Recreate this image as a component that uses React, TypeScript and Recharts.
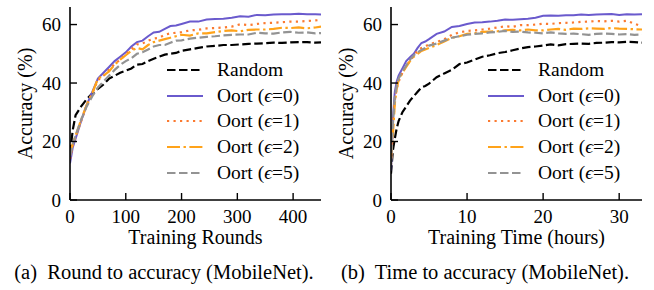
import { LineChart, Line, XAxis, YAxis, Legend } from 'recharts'

const FONT = '"Liberation Serif", "Times New Roman", Times, "DejaVu Serif", serif'

// (a) accuracy vs training rounds
const rounds = [0, 5, 10, 20, 30, 40, 50, 60, 70, 80, 90, 100, 110, 120, 130, 140, 150, 160, 170, 180, 190, 200, 215, 230, 245, 260, 275, 290, 305, 320, 335, 350, 365, 380, 395, 410, 425, 440, 450]
const roundRandom = [16, 24, 29, 32, 34.5, 36.5, 38, 39.5, 41.5, 42.5, 43.5, 44.2, 45, 46.3, 46.5, 47.5, 48.3, 49, 49.7, 50, 50.3, 51, 51.5, 52, 52.5, 52.7, 53, 53, 53.2, 53.4, 53.5, 53.6, 53.8, 53.7, 53.9, 54, 54, 53.8, 53.9]
const roundEps0 = [12.5, 18, 21, 27, 32.5, 37, 41.5, 43.5, 45.5, 47.5, 49, 50.5, 52.5, 54, 54.5, 56, 57.3, 57.5, 58.5, 59.5, 59.7, 60.2, 61, 61, 61.7, 61.9, 62, 62.3, 62.8, 62.7, 63.3, 63.2, 63.4, 63.5, 63.5, 63.7, 63.5, 63.5, 63.4]
const roundEps1 = [14, 19, 21.5, 27, 32.5, 36.5, 41, 42.5, 44.5, 46.5, 48, 49.8, 51.5, 53.2, 53.5, 54.5, 55.2, 55.5, 56.5, 57, 57.2, 57.4, 58, 58.2, 58.7, 58.8, 59, 59.3, 60.1, 59.8, 60.2, 60.5, 60.6, 60.8, 61, 61, 61.2, 61.4, 61.6]
const roundEps2 = [15, 19.5, 22, 27.5, 32.5, 36.5, 41.5, 42.5, 44, 46.3, 48, 49.5, 51, 52, 51.5, 53, 54, 54.5, 55, 55.5, 56, 56.5, 56.2, 57, 57, 57.4, 57.8, 58, 57.7, 58.2, 58.3, 58.3, 58.5, 58.9, 58.8, 59, 58.7, 59, 59.3]
const roundEps5 = [15, 19, 22, 27.5, 32, 35.5, 38.5, 40.5, 42.5, 44.5, 46.2, 47.5, 48.5, 50, 50.5, 51.5, 52.5, 53, 53, 53.8, 54.5, 54.6, 55.2, 55.5, 55.8, 56, 56.3, 56.5, 56.6, 56.6, 57.2, 57, 56.9, 57.3, 57.5, 57.2, 57.3, 57, 57.1]

// (b) accuracy vs training time (hours)
const hours = [0, 0.25, 0.5, 0.75, 1, 1.5, 2, 2.5, 3, 3.5, 4, 4.5, 5, 6, 7, 8, 9, 10, 11, 12, 13, 14, 15, 16, 17, 18, 19, 20, 21, 22, 23, 24, 25, 26, 27, 28, 29, 30, 31, 32, 33]
const timeRandom = [9, 17, 21, 24.5, 27, 30, 32, 34, 35.5, 37, 38.5, 39, 39.8, 42, 43.3, 44.5, 46.5, 47, 48, 49, 49.5, 50.2, 50.6, 51.2, 51.8, 52.3, 52.5, 52.8, 53.2, 52.9, 53.3, 53.4, 53.5, 53.4, 53.7, 53.8, 54, 53.9, 54.1, 54, 53.8]
const timeEps0 = [10, 28, 37, 40.5, 42.5, 45, 47.5, 48.8, 50, 52, 53.7, 54.2, 55, 56.8, 57.6, 59.2, 59.5, 60.2, 60.7, 60.8, 61, 61.3, 61.7, 61.6, 61.8, 62, 62.3, 63, 63.1, 63, 63.2, 63.2, 63.4, 63.3, 63.4, 63.5, 63.6, 63.3, 63.5, 63.4, 63.5]
const timeEps1 = [12, 25, 34, 38, 40.5, 43.5, 46, 47.5, 49.5, 51, 52, 52.5, 53.2, 54, 55, 56.5, 57.3, 57.8, 58, 58.3, 58.6, 59, 59.4, 59.2, 59.8, 59.8, 60, 60.3, 60.2, 60.5, 60.6, 60.7, 60.9, 61, 61.2, 61.1, 61.3, 61, 61.3, 60.3, 59.3]
const timeEps2 = [14, 22, 33, 38, 41, 43.5, 45.5, 47.5, 49, 50, 51, 51.5, 52, 53, 54.2, 55.5, 56, 56.8, 57, 57.5, 57.6, 57.7, 58, 58.2, 58, 58.3, 58, 58, 58.3, 58.5, 58.2, 58.6, 58.5, 58.7, 58.6, 58.5, 58.8, 58.6, 58.5, 58.4, 58.3]
const timeEps5 = [12, 26, 35, 39, 41.5, 44, 46, 48, 49.5, 50.5, 51.3, 52, 52.8, 53.5, 54.5, 55.5, 56, 56.5, 56.8, 57, 57.3, 57.5, 57.8, 57.5, 57.6, 57.3, 57.2, 57, 57.3, 57, 56.8, 56.9, 56.7, 56.5, 56.8, 56.9, 56.8, 56.6, 56.7, 56.5, 56.6]

const yTicks = [0, 20, 40, 60]
const roundTicks = [0, 100, 200, 300, 400]
const hourTicks = [0, 10, 20, 30]

const series = [
  { key: 'random', name: 'Random', eps: '', color: '#000000', dash: '8.5 3.5', width: 2.2 },
  { key: 'eps0', name: 'Oort', eps: '0', color: '#6a5acd', dash: undefined, width: 2 },
  { key: 'eps1', name: 'Oort', eps: '1', color: '#fb7a30', dash: '2.2 4.3', width: 2.2 },
  { key: 'eps2', name: 'Oort', eps: '2', color: '#ffa31a', dash: '13 3.5 2.4 3.5', width: 2.2 },
  { key: 'eps5', name: 'Oort', eps: '5', color: '#939393', dash: '8.5 3.5', width: 2.2 },
]

const roundData = rounds.map((x, i) => ({
  x, random: roundRandom[i], eps0: roundEps0[i], eps1: roundEps1[i], eps2: roundEps2[i], eps5: roundEps5[i],
}))
const timeData = hours.map((x, i) => ({
  x, random: timeRandom[i], eps0: timeEps0[i], eps1: timeEps1[i], eps2: timeEps2[i], eps5: timeEps5[i],
}))

function XTick(props: any) {
  const { x, y, payload } = props
  return (
    <g>
      <line x1={x} x2={x} y1={y} y2={y - 7} stroke="#000" strokeWidth={1.4} />
      <text x={x} y={y + 16} textAnchor="middle" dominantBaseline="central" fontSize={19} fontFamily={FONT} fill="#000">
        {payload.value}
      </text>
    </g>
  )
}

function YTick(props: any) {
  const { x, y, payload } = props
  return (
    <g>
      <line x1={x} x2={x + 7} y1={y} y2={y} stroke="#000" strokeWidth={1.4} />
      <text x={x - 9} y={y} textAnchor="end" dominantBaseline="central" fontSize={19} fontFamily={FONT} fill="#000">
        {payload.value}
      </text>
    </g>
  )
}

function LegendBox(props: any) {
  const items = [...(props.payload || [])].sort(
    (a: any, b: any) => series.findIndex((s) => s.key === a.dataKey) - series.findIndex((s) => s.key === b.dataKey),
  )
  return (
    <div style={{ fontFamily: FONT, fontSize: 19.5, color: '#000' }}>
      {items.map((it: any) => {
        const s = series.find((q) => q.key === it.dataKey)!
        return (
          <div key={s.key} style={{ display: 'flex', alignItems: 'center', height: 25.8 }}>
            <svg width={36} height={10} style={{ display: 'block' }}>
              <line x1={0} x2={36} y1={5} y2={5} stroke={s.color} strokeWidth={s.width} strokeDasharray={s.dash} />
            </svg>
            <span style={{ marginLeft: 14, whiteSpace: 'nowrap' }}>
              {s.eps ? (
                <>
                  {s.name} (<i>ϵ</i>={s.eps})
                </>
              ) : (
                s.name
              )}
            </span>
          </div>
        )
      })}
    </div>
  )
}

function Panel({ data, domain, ticks, xLabel }: { data: any[]; domain: [number, number]; ticks: number[]; xLabel: string }) {
  return (
    <LineChart width={333} height={250} data={data} margin={{ top: 7, right: 12, bottom: 0, left: 0 }}>
      <XAxis
        type="number"
        dataKey="x"
        domain={domain}
        ticks={ticks}
        allowDataOverflow
        tickSize={0}
        tickMargin={0}
        tickLine={false}
        tick={<XTick />}
        height={50}
        axisLine={{ stroke: '#000', strokeWidth: 1.6 }}
        label={{ value: xLabel, position: 'center', dy: 12, fontSize: 20, fontFamily: FONT, fill: '#000' }}
      />
      <YAxis
        type="number"
        domain={[0, 66]}
        ticks={yTicks}
        tickSize={0}
        tickMargin={0}
        tickLine={false}
        tick={<YTick />}
        width={70}
        axisLine={{ stroke: '#000', strokeWidth: 1.6 }}
        label={{ value: 'Accuracy (%)', angle: -90, position: 'center', dx: -10, fontSize: 20, fontFamily: FONT, fill: '#000' }}
      />
      {series.map((s) => (
        <Line
          key={s.key}
          type="linear"
          dataKey={s.key}
          name={s.eps ? `${s.name} (ϵ=${s.eps})` : s.name}
          stroke={s.color}
          strokeWidth={s.width}
          strokeDasharray={s.dash}
          dot={false}
          activeDot={false}
          isAnimationActive={false}
        />
      ))}
      <Legend
        layout="vertical"
        align="center"
        verticalAlign="middle"
        content={<LegendBox />}
        wrapperStyle={{ left: 167, top: 57, width: 'auto' }}
      />
    </LineChart>
  )
}

export default function App() {
  return (
    <div style={{ position: 'absolute', left: 0, top: 0, width: 654, height: 290, background: '#fff', fontFamily: FONT }}>
      <div style={{ position: 'absolute', left: 0, top: 0 }}>
        <Panel data={roundData} domain={[0, 450]} ticks={roundTicks} xLabel="Training Rounds" />
      </div>
      <div style={{ position: 'absolute', left: 321, top: 0 }}>
        <Panel data={timeData} domain={[0, 33]} ticks={hourTicks} xLabel="Training Time (hours)" />
      </div>
      <div style={{ position: 'absolute', left: 0, top: 261, width: 328, textAlign: 'center', fontSize: 20.5, whiteSpace: 'nowrap' }}>
        (a)&nbsp; Round to accuracy (MobileNet).
      </div>
      <div style={{ position: 'absolute', left: 321, top: 261, width: 328, textAlign: 'center', fontSize: 20.5, whiteSpace: 'nowrap' }}>
        (b)&nbsp; Time to accuracy (MobileNet).
      </div>
    </div>
  )
}
